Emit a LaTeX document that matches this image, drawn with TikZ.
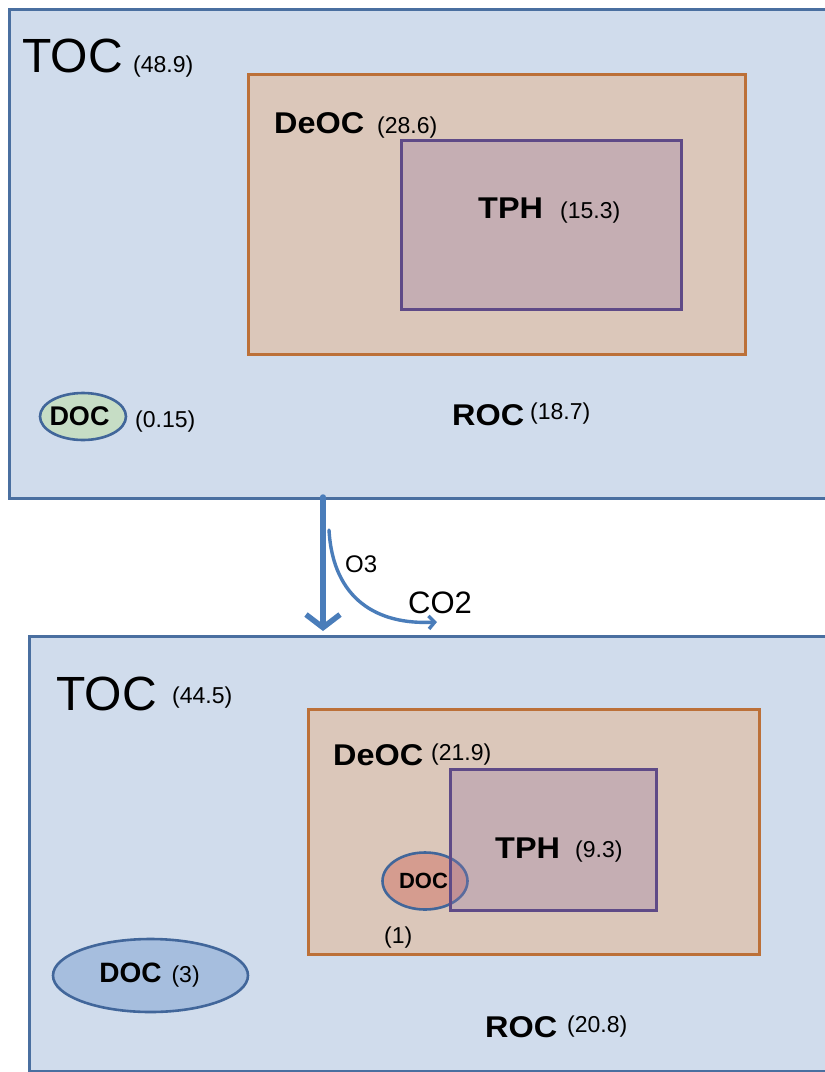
\documentclass[tikz,border=0pt]{standalone}
\usepackage{fontspec}
\setmainfont{Liberation Sans}
\newfontfamily\widefont[FakeStretch=1.08]{Liberation Sans}
\usetikzlibrary{arrows.meta,shapes.geometric}
\definecolor{boxfill}{HTML}{D0DCEC}
\definecolor{boxline}{HTML}{4A6FA0}
\definecolor{deocfill}{HTML}{DBC7BA}
\definecolor{deocline}{HTML}{BC7038}
\definecolor{tphfill}{RGB}{149,119,166}
\definecolor{tphline}{HTML}{5F4A87}
\definecolor{docgreen}{HTML}{C6DDC5}
\definecolor{docred}{HTML}{D59C8F}
\definecolor{docblue}{HTML}{A6BEDE}
\definecolor{docline}{HTML}{41669A}
\definecolor{flow}{HTML}{4A7DBA}
\tikzset{
  outerbox/.style={rectangle, draw=boxline, fill=boxfill, line width=3pt, inner sep=0pt, anchor=north west},
  deocbox/.style={rectangle, draw=deocline, fill=deocfill, line width=2.6pt, inner sep=0pt, anchor=north west},
  tphbox/.style={rectangle, draw=tphline, fill=tphfill, fill opacity=0.3, line width=2.6pt, inner sep=0pt, anchor=north west},
  docell/.style={ellipse, draw=docline, line width=2.6pt, inner sep=0pt},
  bigtxt/.style={font=\fontsize{48}{48}\selectfont, anchor=base west, inner sep=0pt},
  labtxt/.style={font=\widefont\bfseries\fontsize{30}{31}\selectfont, anchor=base west, inner sep=0pt},
  numtxt/.style={font=\fontsize{23}{23}\selectfont, anchor=base west, inner sep=0pt},
  flowline/.style={draw=flow, line cap=round},
}
\begin{document}
\begin{tikzpicture}[x=1pt,y=-1pt]
\useasboundingbox (0,0) rectangle (825,1072);
\fill[white] (0,0) rectangle (825,1072);
% ---------- top state ----------
\node[outerbox, minimum width=832pt, minimum height=489pt] (top) at (8,8) {};
\node[deocbox, minimum width=497pt, minimum height=280pt] (deoc1) at (247,73) {};
\node[tphbox, minimum width=280pt, minimum height=169pt] (tph1) at (400,139) {};
\node[bigtxt] (toc1) at (22,72) {TOC};
\node[numtxt] (toc1n) at (133,72) {(48.9)};
\node[labtxt] (deoc1t) at (274,133) {DeOC};
\node[numtxt] (deoc1n) at (377,133) {(28.6)};
\node[labtxt] (tph1t) at (478,218) {TPH};
\node[numtxt] (tph1n) at (560,218) {(15.3)};
\node[docell, fill=docgreen, minimum width=86pt, minimum height=47pt,
      font=\bfseries\fontsize{27}{27}\selectfont] (doc1) at (83,416.5) {\hspace*{-7pt}DOC};
\node[numtxt] (doc1n) at (135,427) {(0.15)};
\node[labtxt] (roc1t) at (452,425) {ROC};
\node[numtxt] (roc1n) at (530,419) {(18.7)};
% ---------- bottom state ----------
\node[outerbox, minimum width=812pt, minimum height=435pt] (bot) at (28,635) {};
\node[deocbox, minimum width=451pt, minimum height=245pt] (deoc2) at (307,708) {};
\node[docell, fill=docred, minimum width=85pt, minimum height=57pt,
      font=\bfseries\fontsize{22}{22}\selectfont] (doc2) at (425,881) {\hspace*{-3pt}DOC};
\node[tphbox, minimum width=206pt, minimum height=141pt] (tph2) at (449,768) {};
\node[bigtxt] (toc2) at (56,710) {TOC};
\node[numtxt] (toc2n) at (172,703) {(44.5)};
\node[labtxt] (deoc2t) at (333,765) {DeOC};
\node[numtxt] (deoc2n) at (431,760) {(21.9)};
\node[labtxt] (tph2t) at (495,858) {TPH};
\node[numtxt] (tph2n) at (575,857) {(9.3)};
\node[numtxt] (doc2n) at (384,943) {(1)};
\node[docell, fill=docblue, minimum width=195pt, minimum height=73pt] (doc3) at (150.5,975.5)
      {\hspace*{-2pt}{\bfseries\fontsize{28}{28}\selectfont DOC}\hspace{10pt}{\fontsize{23}{23}\selectfont(3)}};
\node[labtxt] (roc2t) at (485,1037) {ROC};
\node[numtxt] (roc2n) at (567,1032) {(20.8)};
% ---------- ozonation arrows ----------
\coordinate (a0) at (323,497);
\coordinate (a1) at (323,631);
\draw[flowline, line width=5.5pt, -{Straight Barb[length=13pt,width=34pt]}] (a0) -- (a1);
\coordinate (c0) at (329,530);
\coordinate (c1) at (437,622);
\draw[flowline, line width=3.4pt, -{Straight Barb[length=6pt,width=13pt]}]
  (c0) .. controls (333,600) and (378,625) .. (c1);
\node[font=\fontsize{24}{24}\selectfont, anchor=base west, inner sep=0pt] (o3) at (345,572) {O3};
\node[font=\fontsize{31}{31}\selectfont, anchor=base west, inner sep=0pt] (co2) at (408,613) {CO2};
\end{tikzpicture}
\end{document}
